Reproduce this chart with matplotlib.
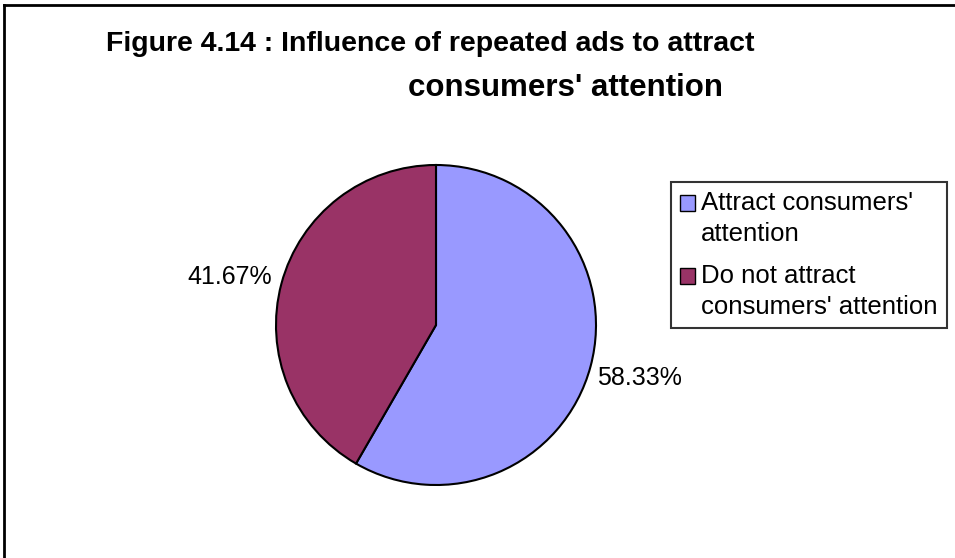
import matplotlib.pyplot as plt
from matplotlib.lines import Line2D
from matplotlib.patches import Rectangle
from matplotlib.legend_handler import HandlerPatch

# Datos del gráfico
categories = ["Attract consumers'\nattention", "Do not attract\nconsumers' attention"]
values = [58.33, 41.67]
colors = ['#9999FF', '#993366']

plt.rcParams['font.family'] = ['Liberation Sans', 'DejaVu Sans']

W, H = 955, 558
fig = plt.figure(figsize=(W / 100, H / 100), dpi=100)

# Marco del gráfico (borde superior e izquierdo)
fig.add_artist(Line2D([4 / W, 4 / W], [0, 1 - 5 / H], transform=fig.transFigure, color='black', lw=2))
fig.add_artist(Line2D([4 / W, 1], [1 - 5 / H, 1 - 5 / H], transform=fig.transFigure, color='black', lw=2))

# Título en dos líneas
fig.text(430 / W, 1 - 44 / H, "Figure 4.14 : Influence of repeated ads to attract",
         ha='center', va='center', fontsize=20.5, fontweight='bold')
fig.text(565 / W, 1 - 88 / H, "consumers' attention",
         ha='center', va='center', fontsize=22.5, fontweight='bold')

# Ejes del pastel: radio de 160 px centrado en (436, 325)
cx, cy, r = 436, 325, 160
ax = fig.add_axes([(cx - r) / W, (H - cy - r) / H, 2 * r / W, 2 * r / H])
wedges, texts = ax.pie(values, colors=colors, startangle=90, counterclock=False,
                       labels=[f'{v:.2f}%' for v in values],
                       wedgeprops=dict(edgecolor='black', linewidth=1.5),
                       textprops=dict(fontsize=18))
ax.set_xlim(-1, 1)
ax.set_ylim(-1, 1)
ax.set_aspect('equal')

# Posición de las etiquetas de porcentaje
texts[0].set_position(((597 - cx) / r, (cy - 378) / r))
texts[0].set_ha('left')
texts[0].set_va('center')
texts[1].set_position(((272 - cx) / r, (cy - 277) / r))
texts[1].set_ha('right')
texts[1].set_va('center')


# Cuadro de la leyenda alineado con la primera línea del texto
def square_top(legend, orig_handle, xdescent, ydescent, width, height, fontsize):
    return Rectangle((-xdescent, -ydescent + 11.5), width, height)


leg = fig.legend(wedges, categories, loc='upper left',
                 bbox_to_anchor=(671 / W, 1 - 182 / H), fontsize=18.5,
                 frameon=True, fancybox=False, edgecolor='black',
                 handlelength=0.58, handleheight=0.58, handletextpad=0.25,
                 borderpad=0.35, labelspacing=0.68, borderaxespad=0,
                 handler_map={w: HandlerPatch(patch_func=square_top) for w in wedges})
leg.get_frame().set_linewidth(1.5)
for t in leg.get_texts():
    t.set_linespacing(1.38)
for h in leg.legend_handles:
    h.set_linewidth(1)

fig.savefig('out.png', dpi=100)
